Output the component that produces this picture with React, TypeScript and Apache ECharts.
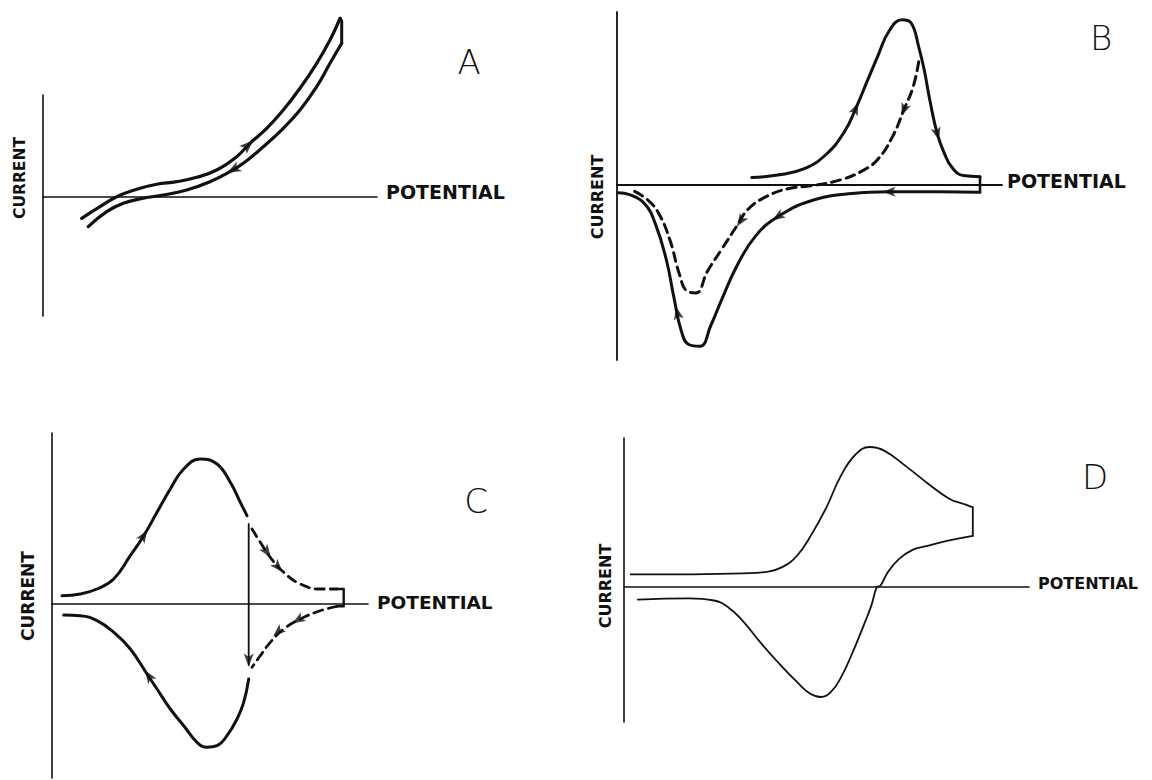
import React, { useEffect, useRef } from "react";
import * as echarts from "echarts";

// ---------- Panel A (potential, current) ----------
const aForward = [
  [38.7, -21.3], [57, -9.7], [73.7, 0.3], [93.7, 7.7], [113.7, 12.7], [133.7, 15.3],
  [153.7, 19.7], [173.7, 27], [193.7, 40.3], [207, 53.7], [223.7, 68.7], [240.3, 87],
  [257, 108.7], [273.7, 133.7], [287, 157], [297, 178.7],
];
const aTurn = [[297, 178.7], [298.7, 176], [298.7, 153.7]];
const aReverse = [
  [298.7, 153.7], [287, 133.7], [273.7, 110.3], [257, 87], [240.3, 68.7], [220.3, 50.3],
  [200.3, 33.7], [187, 25.3], [167, 15.3], [143.7, 7], [120.3, 2], [100.3, -1.3],
  [80.3, -6.3], [63.7, -14.7], [45.3, -29.7],
];
const aArrows = [[205, 51.7, 43], [190.3, 27.4, 209]];

// ---------- Panel B ----------
const bForward = [
  [134.8, 7.4], [160.8, 10], [186.7, 16.1], [209, 30.5], [227.5, 53.4], [238.7, 76.4],
  [249.8, 102.8], [260.9, 129.2], [272.1, 154], [285, 165.2], [294.3, 161.7], [301.7, 138.2],
  [307.3, 114.7], [312.9, 84.5], [320.3, 51.1], [327.7, 30.9], [335.1, 17.4], [346.3, 9.4],
  [363, 8.3],
];
const bTurn = [[363, 8.3], [363, -7.3]];
const bReverse = [
  [363, -7.3], [324, -6.7], [272.1, -6.7], [235, -8.5], [194.2, -15.8], [160.8, -31.7],
  [138.5, -51.1], [120, -80.7], [105.1, -113.6], [94, -140], [82.9, -161.3], [71.7, -159.5],
  [64.3, -145.9], [56.9, -112.4], [49.5, -75.5], [38.3, -38.6], [27.2, -18.3], [12.4, -9.6],
  [1.2, -7.7],
];
const bDashed = [
  [301.7, 123.2], [296.2, 98.4], [286.9, 75.2], [275.8, 48.9], [260.9, 25.8], [246.1, 14.6],
  [223.8, 5.2], [194.2, -0.8], [171.9, -3.5], [149.6, -11.4], [131.1, -24.2], [120, -40.7],
  [105.1, -63.6], [90.3, -86.5], [79.1, -107.9], [69.9, -106], [62.4, -89.2], [53.1, -55.6],
  [41.9, -28.7], [30.8, -15], [17.7, -6.4],
];
const bArrows = [
  [238.7, 76.4, 66], [320.3, 51.1, -75], [272.1, -6.7, 180], [160.8, -31.7, 212],
  [60.5, -128, 102], [286.9, 75.2, -112], [123.5, -36, 236],
];

// ---------- Panel C ----------
const cForward = [
  [10, 8.3], [28.3, 10], [45, 15], [61.7, 25], [78.3, 48.3], [91.7, 68.3], [105, 91.7],
  [118.3, 115], [131.7, 135], [148.3, 145], [165, 140], [178.3, 121.7], [188.3, 101.7],
  [195, 88.3],
];
const cReverse = [
  [196.7, -75], [191.7, -98.3], [185, -115], [175, -131.7], [165, -141.7], [155, -143.3],
  [145, -138.3], [131.7, -121.7], [118.3, -105], [105, -85], [95, -70], [78.3, -45],
  [61.7, -28.3], [45, -16.7], [28.3, -11.7], [11.7, -11],
];
const cDrop = [[196.7, 80], [196.7, -61]];
const cDashedOut = [
  [200, 75], [208.3, 61.7], [218.3, 46.7], [231.7, 31.7], [248.3, 20], [268.3, 15], [285, 15],
];
const cBracket = [[285, 15], [291.7, 15], [291.7, -2.3], [285, -2.3]];
const cDashedBack = [
  [285, -2.3], [268.3, -6.7], [248.3, -15], [231.7, -25], [218.3, -38.3], [208.3, -51.7],
  [200, -63.3],
];
const cArrows = [
  [91.7, 68.3, 58], [96.7, -72, 124], [196.7, -56, -90], [215, 52, -54], [226, 37, -48],
  [246, -16, 212], [226, -28, 222],
];

// ---------- Panel D ----------
const dForward = [
  [6.7, 12.6], [64.6, 12.7], [118.9, 13.6], [144.2, 15.4], [158.7, 20.1], [173.2, 31.5],
  [187.7, 52.9], [202.2, 79.2], [216.6, 110.6], [231.1, 132], [245.6, 140], [260.1, 136.4],
  [281.8, 120.9], [303.5, 103.8], [325.2, 88.3], [339.7, 83], [348.8, 79.6],
];
const dTurn = [[348.8, 79.6], [348.8, 51.2]];
const dReverse = [
  [348.8, 51.2], [325.2, 46.6], [303.5, 41.1], [289, 37.4], [274.6, 27.7], [263.7, 14.6],
  [256.5, 1.5], [252.8, -0.2], [247.4, -18.4], [238.4, -41.6], [227.5, -68], [216.6, -91.1],
  [207.6, -104.2], [196.7, -110], [185.9, -106.5], [173.2, -95.2], [155.1, -76.5],
  [137, -56.1], [118.9, -34.1], [104.4, -20.4], [90, -13.5], [64.6, -11.3], [13.9, -12.6],
];

// axis extents per panel: [potentialMax, currentMin, currentMax]
const aAxis = [334, -119, 102];
const bAxis = [385, -175, 173];
const cAxis = [316, -174, 171];
const dAxis = [405, -135, 149];

const axisLabel = "POTENTIAL";
const yLabel = "CURRENT";
const panelLetters = ["A", "B", "C", "D"];

const INK = "#111";

export default function App() {
  const ref = useRef<HTMLDivElement>(null);

  useEffect(() => {
    if (!ref.current) return;
    const chart = echarts.init(ref.current, undefined, { renderer: "svg" });

    // panel origins (pixel position of axes crossing)
    const origins = [
      [43, 197],
      [617, 185],
      [52, 604],
      [624, 587],
    ];
    const axes = [aAxis, bAxis, cAxis, dAxis];
    const axisWidths = [1.6, 1.8, 1.6, 1.6];

    const grids = axes.map((ax, i) => ({
      left: origins[i][0],
      top: origins[i][1] - ax[2],
      width: ax[0],
      height: ax[2] - ax[1],
      outerBoundsMode: "none",
      containLabel: false,
    }));
    const xAxes = axes.map((ax, i) => ({
      type: "value",
      gridIndex: i,
      min: 0,
      max: ax[0],
      axisLine: { show: true, onZero: true, lineStyle: { color: INK, width: axisWidths[i] } },
      axisTick: { show: false },
      axisLabel: { show: false },
      splitLine: { show: false },
    }));
    const yAxes = axes.map((ax, i) => ({
      type: "value",
      gridIndex: i,
      min: ax[1],
      max: ax[2],
      axisLine: { show: true, onZero: false, lineStyle: { color: INK, width: axisWidths[i] } },
      axisTick: { show: false },
      axisLabel: { show: false },
      splitLine: { show: false },
    }));

    const line = (idx: number, data: number[][], width: number, opts: any = {}) => ({
      type: "line",
      xAxisIndex: idx,
      yAxisIndex: idx,
      data,
      smooth: opts.smooth ?? 0.45,
      symbol: "none",
      showSymbol: false,
      clip: false,
      silent: true,
      lineStyle: {
        color: INK,
        width,
        type: opts.dashed ? [9, 6] : "solid",
        cap: "round",
        join: "round",
      },
      z: 3,
    });
    const arrows = (idx: number, data: number[][], size: number[]) => ({
      type: "scatter",
      xAxisIndex: idx,
      yAxisIndex: idx,
      clip: false,
      silent: true,
      symbol: "path://M0,0 L5,12 L0,9 L-5,12 Z",
      symbolSize: size,
      itemStyle: { color: INK },
      data: data.map((d) => ({ value: [d[0], d[1]], symbolRotate: d[2] - 90 })),
      z: 4,
    });

    const series = [
      line(0, aForward, 3.2),
      line(0, aTurn, 3, { smooth: false }),
      line(0, aReverse, 3.2),
      arrows(0, aArrows, [11, 14]),

      line(1, bForward, 3),
      line(1, bTurn, 2.6, { smooth: false }),
      line(1, bReverse, 3),
      line(1, bDashed, 3, { dashed: true }),
      arrows(1, bArrows, [10, 13]),

      line(2, cForward, 3),
      line(2, cReverse, 3),
      line(2, cDrop, 1.8, { smooth: false }),
      line(2, cDashedOut, 2.8, { dashed: true }),
      line(2, cBracket, 2.4, { smooth: false }),
      line(2, cDashedBack, 2.8, { dashed: true }),
      arrows(2, cArrows, [10, 13]),

      line(3, dForward, 1.8),
      line(3, dTurn, 1.8, { smooth: false }),
      line(3, dReverse, 1.8),
    ];

    const text = (t: string, x: number, y: number, size: number, opts: any = {}) => ({
      type: "text",
      x,
      y,
      rotation: opts.rotation ?? 0,
      silent: true,
      style: {
        text: t,
        fill: INK,
        fontSize: size,
        fontWeight: opts.weight ?? "bold",
        fontFamily: opts.family ?? '"DejaVu Sans", sans-serif',
        align: opts.align ?? "left",
        verticalAlign: "middle",
      },
    });

    const graphic = [
      text(axisLabel, 386, 192, 19),
      text(axisLabel, 1007, 181, 19),
      text(axisLabel, 377, 602, 18.5),
      text(axisLabel, 1038, 583, 16),
      text(yLabel, 20, 178, 15.5, { rotation: Math.PI / 2, align: "center" }),
      text(yLabel, 597, 197, 16, { rotation: Math.PI / 2, align: "center" }),
      text(yLabel, 28, 596, 17, { rotation: Math.PI / 2, align: "center" }),
      text(yLabel, 605, 586, 16, { rotation: Math.PI / 2, align: "center" }),
      text(panelLetters[0], 469, 62, 34, { weight: 200, align: "center" }),
      text(panelLetters[1], 1101, 38, 34, { weight: 200, align: "center" }),
      text(panelLetters[2], 476, 501, 34, { weight: 200, align: "center" }),
      text(panelLetters[3], 1095, 477, 34, { weight: 200, align: "center" }),
    ];

    chart.setOption({
      animation: false,
      backgroundColor: "#ffffff",
      grid: grids,
      xAxis: xAxes,
      yAxis: yAxes,
      series,
      graphic,
    });

    return () => chart.dispose();
  }, []);

  return (
    <div
      ref={ref}
      style={{ position: "fixed", left: 0, top: 0, width: 1152, height: 780, background: "#fff" }}
    />
  );
}
